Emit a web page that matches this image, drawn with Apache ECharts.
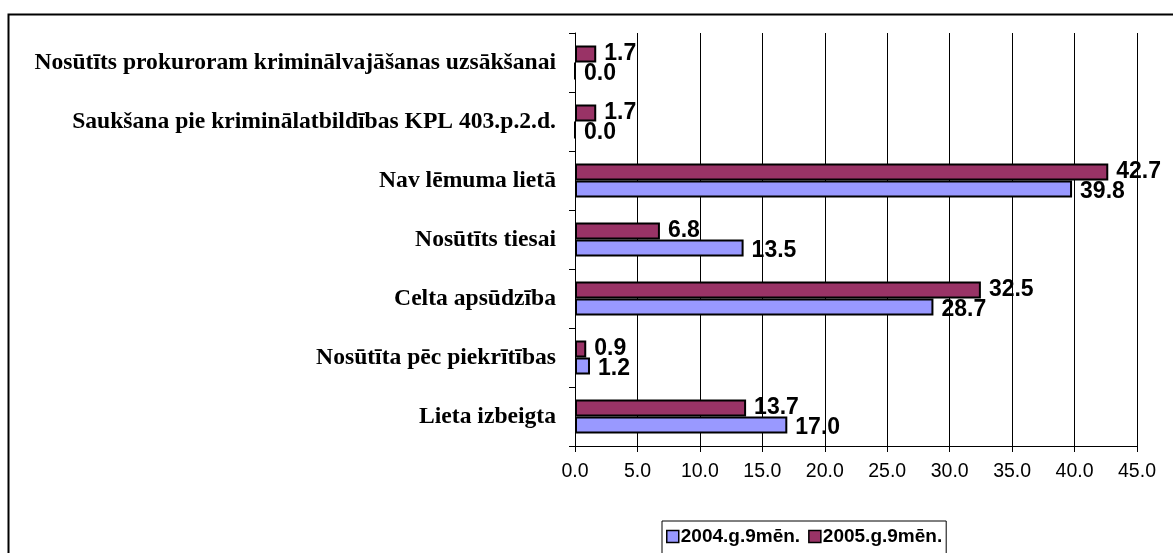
<!DOCTYPE html>
<html>
<head>
<meta charset="utf-8">
<script src="https://cdn.jsdelivr.net/npm/echarts@6/dist/echarts.min.js"></script>
<style>
html,body{margin:0;padding:0;background:#fff;}
#c{width:1173px;height:553px;}
</style>
</head>
<body>
<div id="c"></div>
<script>
// categories listed bottom to top (ECharts category y-axis starts at the bottom)
const categories = [
  'Lieta izbeigta',
  'Nosūtīta pēc piekrītības',
  'Celta apsūdzība',
  'Nosūtīts tiesai',
  'Nav lēmuma lietā',
  'Saukšana pie kriminālatbildības KPL 403.p.2.d.',
  'Nosūtīts prokuroram kriminālvajāšanas uzsākšanai'
];
const seriesNames = ['2004.g.9mēn.', '2005.g.9mēn.'];
const values2004 = [17.0, 1.2, 28.7, 13.5, 39.8, 0.0, 0.0];
const values2005 = [13.7, 0.9, 32.5, 6.8, 42.7, 1.7, 1.7];

const chart = echarts.init(document.getElementById('c'), null, {renderer: 'canvas'});
const valFont = {fontFamily: 'Arial, "Liberation Sans", sans-serif', fontWeight: 'bold', fontSize: 23, color: '#000'};
chart.setOption({
  animation: false,
  backgroundColor: '#fff',
  graphic: [{
    type: 'rect', left: 6, top: 12, z: -1,
    shape: {width: 1200, height: 600},
    style: {fill: 'none', stroke: '#000', lineWidth: 2}
  }],
  grid: {left: 575, right: 36, top: 33, bottom: 107, containLabel: false},
  legend: {
    data: seriesNames,
    left: 662, top: 521,
    itemWidth: 12, itemHeight: 12, itemGap: 8,
    borderColor: '#000', borderWidth: 1, padding: [6, 4, 8, 4],
    icon: 'rect',
    textStyle: {fontFamily: 'Arial, "Liberation Sans", sans-serif', fontWeight: 'bold', fontSize: 19, color: '#000', padding: [0,0,0,-3]},
    itemStyle: {borderColor: '#000', borderWidth: 1.5}
  },
  xAxis: {
    type: 'value', min: 0, max: 45, interval: 5,
    axisLine: {show: true, lineStyle: {color: '#000', width: 1}},
    axisTick: {show: true, length: 6, lineStyle: {color: '#000'}},
    splitLine: {show: true, lineStyle: {color: '#000', width: 1}},
    axisLabel: {
      formatter: v => v.toFixed(1), margin: 16,
      fontFamily: 'Arial, "Liberation Sans", sans-serif', fontSize: 19.5, color: '#000'
    }
  },
  yAxis: {
    type: 'category', data: categories,
    axisLine: {show: true, lineStyle: {color: '#000', width: 1}},
    axisTick: {show: true, length: 6, lineStyle: {color: '#000'}},
    axisLabel: {
      margin: 19,
      fontFamily: '"Times New Roman", "Liberation Serif", serif', fontWeight: 'bold', fontSize: 23.6, color: '#000'
    }
  },
  series: [
    {
      name: seriesNames[1], type: 'bar', data: values2005,
      barWidth: 17, barGap: '0%',
      itemStyle: {color: '#993366', borderColor: '#000', borderWidth: 2},
      label: {show: true, position: 'right', distance: 8, formatter: p => p.value.toFixed(1), ...valFont}
    },
    {
      name: seriesNames[0], type: 'bar', data: values2004,
      barWidth: 17, barGap: '0%',
      itemStyle: {color: '#9999FF', borderColor: '#000', borderWidth: 2},
      label: {show: true, position: 'right', distance: 8, offset: [0, 3], formatter: p => p.value.toFixed(1), ...valFont}
    }
  ]
});
</script>
</body>
</html>
